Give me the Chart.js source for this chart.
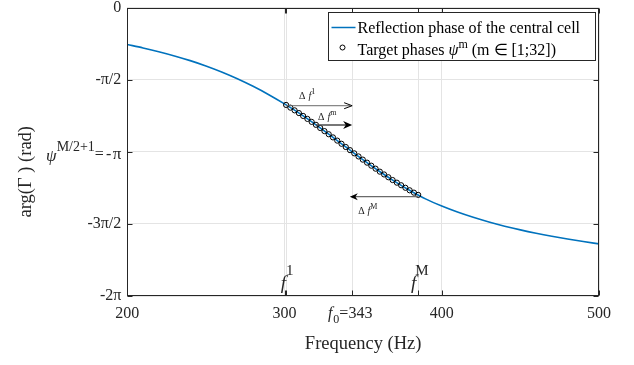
<!DOCTYPE html>
<html><head><meta charset="utf-8">
<script src="https://cdn.jsdelivr.net/npm/chart.js@4.4.1/dist/chart.umd.min.js"></script>
<style>html,body{margin:0;padding:0;background:#fff}#wrap{width:634px;height:365px;position:relative}</style>
</head><body><div id="wrap"><canvas id="c"></canvas></div>
<script>
// ---- data ----
const freqs = [200,210,220,230,240,250,260,270,280,290,300,310,320,330,340,350,360,370,380,390,400,410,420,430,440,450,460,470,480,490,500];
const phaseCurve = [-0.805,-0.880,-0.962,-1.054,-1.157,-1.273,-1.404,-1.552,-1.717,-1.899,-2.100,-2.318,-2.556,-2.808,-3.065,-3.319,-3.561,-3.786,-3.990,-4.173,-4.325,-4.455,-4.570,-4.672,-4.762,-4.843,-4.916,-4.982,-5.042,-5.097,-5.148];
const targetFreqs = [301.00,303.71,306.42,309.13,311.84,314.55,317.26,319.97,322.68,325.39,328.10,330.81,333.52,336.23,338.94,341.65,344.35,347.06,349.77,352.48,355.19,357.90,360.61,363.32,366.03,368.74,371.45,374.16,376.87,379.58,382.29,385.00];
const targetPhases = [-2.122,-2.181,-2.240,-2.299,-2.362,-2.426,-2.491,-2.555,-2.624,-2.692,-2.760,-2.829,-2.899,-2.968,-3.038,-3.107,-3.176,-3.244,-3.313,-3.379,-3.445,-3.510,-3.575,-3.636,-3.697,-3.758,-3.815,-3.871,-3.926,-3.981,-4.032,-4.081];
const xTickValues = [200,300,301,343,385,400,500];
const xTickLabels = ['200','300','','','','400','500'];
const yTickValues = [0,-Math.PI/2,-Math.PI,-3*Math.PI/2,-2*Math.PI];
const yTickLabels = ['0','-π/2','','-3π/2','-2π'];
const fFirst = 301, fCenter = 343, fLast = 385;
const arrowFirst = {from:301, to:343, y:-2.139};
const arrowMid   = {from:320, to:343, y:-2.559};
const arrowLast  = {from:385, to:341.5, y:-4.121};
const legendTexts = ['Reflection phase of the central cell','Target phases ','ψ','m',' (m ∈ [1;32])'];

const SERIF = '"Liberation Serif","Times New Roman",serif';
const INK = '#262626';
const BLUE = '#0072BD';

function rich(ctx, parts, x, y, align) {
  let w = 0;
  parts.forEach(p => { ctx.font = p.f; p.w = ctx.measureText(p.t).width; w += p.w + (p.gap||0); });
  let cx = align === 'right' ? x - w : align === 'center' ? x - w/2 : x;
  ctx.textAlign = 'left'; ctx.textBaseline = 'alphabetic';
  parts.forEach(p => { ctx.font = p.f; ctx.fillText(p.t, cx, y + (p.dy||0)); cx += p.w + (p.gap||0); });
}
function arrow(ctx, x1, x2, y, o) {
  const dir = Math.sign(x2 - x1);
  ctx.strokeStyle = o.shaft; ctx.lineWidth = o.lw;
  ctx.beginPath(); ctx.moveTo(x1, y); ctx.lineTo(x2 - dir*2, y); ctx.stroke();
  ctx.fillStyle = '#000'; ctx.strokeStyle = '#000';
  if (o.open) {
    ctx.lineWidth = 1;
    ctx.beginPath(); ctx.moveTo(x2 - dir*o.len, y - o.hw); ctx.lineTo(x2, y); ctx.lineTo(x2 - dir*o.len, y + o.hw); ctx.stroke();
  } else {
    ctx.beginPath(); ctx.moveTo(x2, y); ctx.lineTo(x2 - dir*o.len, y - o.hw); ctx.lineTo(x2 - dir*o.len*0.7, y); ctx.lineTo(x2 - dir*o.len, y + o.hw); ctx.closePath(); ctx.fill();
  }
}

const annot = {
  id: 'annot',
  afterDatasetsDraw(chart) {
    const {ctx, chartArea: a, scales: {x, y}} = chart;
    ctx.save();
    // axes box
    const L = Math.round(a.left)+0.5, R = Math.round(a.right)-0.5, T = Math.round(a.top)+0.5, B = Math.round(a.bottom)-0.5;
    ctx.strokeStyle = INK; ctx.lineWidth = 1;
    ctx.strokeRect(L, T, R-L, B-T);
    // inward ticks
    ctx.beginPath();
    xTickValues.forEach(v => { const px = Math.round(x.getPixelForValue(v))+0.5; ctx.moveTo(px,B); ctx.lineTo(px,B-5); ctx.moveTo(px,T); ctx.lineTo(px,T+5); });
    yTickValues.forEach(v => { const py = Math.round(y.getPixelForValue(v))+0.5; ctx.moveTo(L,py); ctx.lineTo(L+5,py); ctx.moveTo(R,py); ctx.lineTo(R-5,py); });
    ctx.stroke();
    // special tick labels
    ctx.fillStyle = INK;
    const pyC = y.getPixelForValue(-Math.PI);
    rich(ctx, [
      {t:'ψ', f:'italic 17px '+SERIF, dy:2},
      {t:'M/2+1', f:'14px '+SERIF, dy:-8},
      {t:'=', f:'16px '+SERIF, gap:2},
      {t:'-', f:'16px '+SERIF, gap:1.5},
      {t:'π', f:'17px '+SERIF}
    ], x.left - 6, pyC + 7, 'right');
    const pxC = x.getPixelForValue(fCenter);
    rich(ctx, [
      {t:'f', f:'italic 16px '+SERIF, gap:1},
      {t:'0', f:'12px '+SERIF, dy:5},
      {t:'=343', f:'16px '+SERIF}
    ], pxC - 2, a.bottom + 22, 'center');
    // f^1, f^M annotations
    [[fFirst,'1'],[fLast,'M']].forEach(([f,s]) => {
      const px = x.getPixelForValue(f);
      ctx.font = 'italic 19px '+SERIF; const fw = ctx.measureText('f').width;
      ctx.fillText('f', px - fw - (s==='M'?2:0), a.bottom - 7);
      ctx.font = '15px '+SERIF; ctx.fillText(s, px - (s==='M'?3:0), a.bottom - 21);
    });
    // arrows
    const ay1 = y.getPixelForValue(arrowFirst.y), ay2 = y.getPixelForValue(arrowMid.y), ay3 = y.getPixelForValue(arrowLast.y);
    arrow(ctx, x.getPixelForValue(arrowFirst.from), x.getPixelForValue(arrowFirst.to), ay1, {shaft:'#6a6a6a', lw:1, open:true, len:8, hw:3});
    arrow(ctx, x.getPixelForValue(arrowMid.from), x.getPixelForValue(arrowMid.to), ay2, {shaft:'#4a4a4a', lw:1.5, open:false, len:9, hw:4});
    arrow(ctx, x.getPixelForValue(arrowLast.from), x.getPixelForValue(arrowLast.to), ay3, {shaft:'#6a6a6a', lw:1.2, open:false, len:8, hw:3.5});
    ctx.fillStyle = '#222';
    const lab = (sup, px, py) => rich(ctx, [
      {t:'Δ', f:'10px '+SERIF, gap:3},
      {t:'f', f:'italic 10px '+SERIF},
      {t:sup, f:'8px '+SERIF, dy:-5}
    ], px, py, 'left');
    lab('1', x.getPixelForValue(arrowFirst.from)+13, ay1 - 7);
    lab('m', x.getPixelForValue(arrowMid.from)+2, ay2 - 5);
    lab('M', x.getPixelForValue(fCenter)+6, ay3 + 17);
    // y axis title
    ctx.save();
    ctx.translate(26, (a.top + a.bottom)/2 + 20);
    ctx.rotate(-Math.PI/2);
    ctx.font = '18.5px '+SERIF; ctx.textAlign = 'center'; ctx.textBaseline = 'middle'; ctx.fillStyle = INK;
    ctx.fillText('arg(Γ ) (rad)', 0, 0);
    ctx.restore();
    // legend
    const lx = Math.round(a.right) - 270.5, ly = 12.5, lw = 267, lh = 48;
    ctx.fillStyle = '#fff'; ctx.fillRect(lx, ly, lw, lh);
    ctx.strokeStyle = INK; ctx.lineWidth = 1; ctx.strokeRect(lx, ly, lw, lh);
    ctx.strokeStyle = BLUE; ctx.lineWidth = 1.5;
    ctx.beginPath(); ctx.moveTo(lx+3, ly+15); ctx.lineTo(lx+27, ly+15); ctx.stroke();
    ctx.strokeStyle = '#000'; ctx.lineWidth = 1;
    ctx.beginPath(); ctx.arc(lx+14, ly+35, 2.5, 0, Math.PI*2); ctx.stroke();
    ctx.fillStyle = '#000';
    rich(ctx, [{t:legendTexts[0], f:'16px '+SERIF}], lx+29, ly+20.5, 'left');
    rich(ctx, [
      {t:legendTexts[1], f:'16px '+SERIF},
      {t:legendTexts[2], f:'italic 16px '+SERIF},
      {t:legendTexts[3], f:'12px '+SERIF, dy:-7},
      {t:legendTexts[4], f:'16px '+SERIF}
    ], lx+29, ly+42, 'left');
    ctx.restore();
  }
};

const labelFor = (vals, labs) => (v) => { const i = vals.findIndex(t => Math.abs(t - v) < 1e-6); return i >= 0 ? labs[i] : ''; };

new Chart(document.getElementById('c'), {
  type: 'scatter',
  data: {
    datasets: [
      {
        label: 'Target phases ψm (m ∈ [1;32])',
        data: targetFreqs.map((f,i) => ({x:f, y:targetPhases[i]})),
        showLine: false, pointRadius: 2.6, pointBorderWidth: 1,
        pointBorderColor: '#000', pointBackgroundColor: 'rgba(0,0,0,0)', order: 1
      },
      {
        label: 'Reflection phase of the central cell',
        data: freqs.map((f,i) => ({x:f, y:phaseCurve[i]})),
        showLine: true, pointRadius: 0, borderColor: BLUE, borderWidth: 1.6,
        cubicInterpolationMode: 'monotone', fill: false, order: 2
      }
    ]
  },
  options: {
    responsive: true, maintainAspectRatio: false, animation: false,
    devicePixelRatio: 1,
    layout: {padding: {left: 0, right: 35, top: 7.5, bottom: 0}},
    plugins: {legend: {display: false}, tooltip: {enabled: false}},
    scales: {
      x: {
        type: 'linear', min: 200, max: 500,
        afterBuildTicks: s => { s.ticks = xTickValues.map(v => ({value: v})); },
        afterFit: s => { s.height = 69; s.paddingLeft = 0; s.paddingRight = 0; },
        ticks: {autoSkip: false, maxRotation: 0, padding: 8, color: INK,
                font: {family: SERIF, size: 16}, callback: labelFor(xTickValues, xTickLabels)},
        grid: {color: '#e4e4e4', lineWidth: 1, drawTicks: false},
        border: {display: false},
        title: {display: true, text: 'Frequency (Hz)', color: INK, font: {family: SERIF, size: 18.5}, padding: {top: 0, bottom: 10}}
      },
      y: {
        type: 'linear', min: -2*Math.PI, max: 0,
        afterBuildTicks: s => { s.ticks = yTickValues.map(v => ({value: v})); },
        afterFit: s => { s.width = 127.3; s.paddingTop = 0; s.paddingBottom = 0; },
        ticks: {autoSkip: false, padding: 6, color: INK,
                font: {family: SERIF, size: 16}, callback: labelFor(yTickValues, yTickLabels)},
        grid: {color: '#e4e4e4', lineWidth: 1, drawTicks: false},
        border: {display: false}
      }
    }
  },
  plugins: [annot]
});
</script>
</body></html>
